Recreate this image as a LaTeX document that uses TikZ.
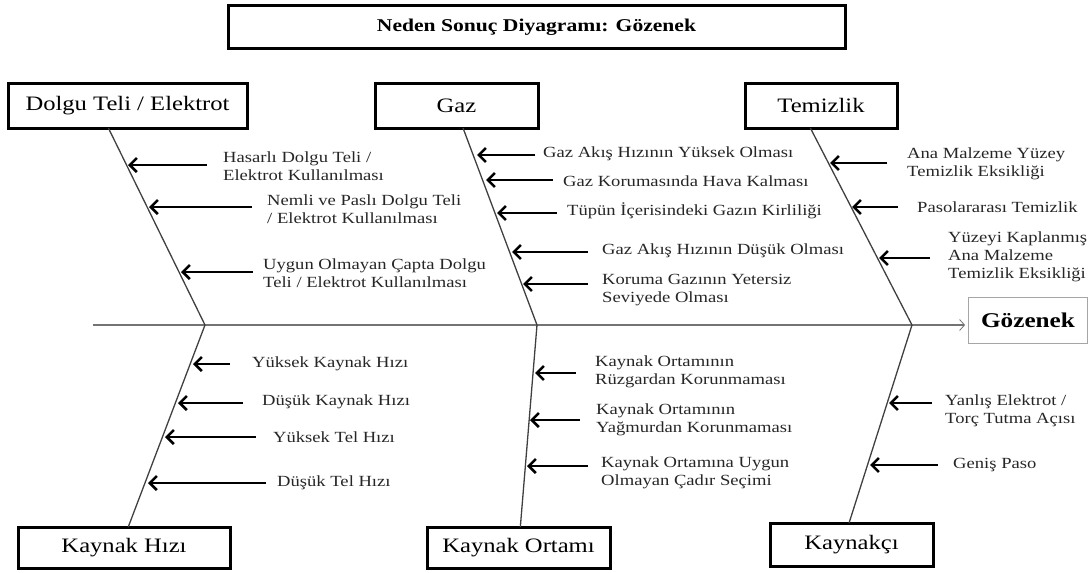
\documentclass[tikz,border=0pt]{standalone}
\usepackage{fontspec}
\setmainfont{Liberation Serif}[FakeStretch=1.2]
\usetikzlibrary{calc,arrows.meta}

\begin{document}
\begin{tikzpicture}[x=1pt,y=-1pt,every text node part/.style={align=left}]
		\tikzstyle{catbox}=[draw,line width=3pt,outer sep=0pt,inner sep=0pt,
							font=\fontsize{20.5}{24}\selectfont]
		\tikzstyle{bone}=[line width=1.3pt,draw=black!75]
		\tikzstyle{cause}=[line width=2.6pt,-{Straight Barb[length=7pt,width=14pt]}]
		\tikzstyle{causetext}=[anchor=west,inner sep=0pt,text=black!85,
							font=\fontsize{15.5}{18}\selectfont]

		\useasboundingbox (0,0) rectangle (1088,573);

		% title
		\node[catbox,minimum width=617pt,minimum height=43pt,
			font=\fontsize{18}{22}\selectfont\bfseries] (title) at (536.5,27) {Neden Sonuç Diyagramı: Gözenek};

		% categories
		\node[catbox,minimum width=239pt,minimum height=45pt] (dolgu) at (127.5,105.5) {Dolgu Teli / Elektrot};
		\node[catbox,minimum width=163pt,minimum height=45pt] (gaz) at (456.5,105.5) {Gaz};
		\node[catbox,minimum width=152pt,minimum height=45pt] (temizlik) at (821,105.5) {Temizlik};
		\node[catbox,minimum width=212pt,minimum height=41pt] (hiz) at (124,547.5) {Kaynak Hızı};
		\node[catbox,minimum width=183pt,minimum height=41pt] (ortam) at (518.5,547.5) {Kaynak Ortamı};
		\node[catbox,minimum width=163pt,minimum height=43pt] (kaynakci) at (851.5,544.5) {Kaynakçı};

		% effect
		\node[draw=black!35,line width=0.8pt,minimum width=119pt,minimum height=46pt,
			font=\fontsize{21}{24}\selectfont\bfseries] (effect) at (1028,320) {Gözenek};

		% spine
		\coordinate (sp) at (93,325);
		\foreach \name/\x in {j1/205, j2/537, j3/912}
			\coordinate (\name) at (\x,325);
		\draw[draw=black!55,line width=1.5pt,shorten >=3pt,
			-{Straight Barb[length=5pt,width=11pt,line width=0.8pt]}] (sp) -- (sp -| effect.west);

		% bones
		\foreach \b/\t/\j in {dolgu/0.42/j1, gaz/0.54/j2, temizlik/0.43/j3}
			\draw[bone] ($(\b.south west)!\t!(\b.south east)$) -- (\j);
		\foreach \b/\t/\j in {hiz/0.52/j1, ortam/0.51/j2, kaynakci/0.485/j3}
			\draw[bone] ($(\b.north west)!\t!(\b.north east)$) -- (\j);

		% causes
		\foreach \n/\y/\xb/\xa/\xt/\yt/\txt in {
			d1/165/128/207/223/166/{Hasarlı Dolgu Teli /\\Elektrot Kullanılması},
			d2/207/149/252/267/209/{Nemli ve Paslı Dolgu Teli\\/ Elektrot Kullanılması},
			d3/272/181/253/263/273/{Uygun Olmayan Çapta Dolgu\\Teli / Elektrot Kullanılması},
			g1/155/477/535/543/154/{Gaz Akış Hızının Yüksek Olması},
			g2/180/486/553/563/181/{Gaz Korumasında Hava Kalması},
			g3/213/497/557/567/211/{Tüpün İçerisindeki Gazın Kirliliği},
			g4/252/512/588/602/251/{Gaz Akış Hızının Düşük Olması},
			g5/284/523/588/602/290/{Koruma Gazının Yetersiz\\Seviyede Olması},
			t1/163/830/887/907/164/{Ana Malzeme Yüzey\\Temizlik Eksikliği},
			t2/207/852/898/917/207/{Pasolararası Temizlik},
			t3/258/879/930/948/257/{Yüzeyi Kaplanmış\\Ana Malzeme\\Temizlik Eksikliği},
			k1/364/193/230/252/364/{Yüksek Kaynak Hızı},
			k2/403/178/243/262/402/{Düşük Kaynak Hızı},
			k3/437/165/256/273/437/{Yüksek Tel Hızı},
			k4/483/148/266/277/483/{Düşük Tel Hızı},
			o1/373/535/576/595/372/{Kaynak Ortamının\\Rüzgardan Korunmaması},
			o2/420/530/580/596/420/{Kaynak Ortamının\\Yağmurdan Korunmaması},
			o3/466/527/588/601/473/{Kaynak Ortamına Uygun\\Olmayan Çadır Seçimi},
			c1/403/889/932/945/411/{Yanlış Elektrot /\\Torç Tutma Açısı},
			c2/465/870/938/953/465/{Geniş Paso}} {
			\node[causetext] (\n) at (\xt,\yt) {\txt};
			\coordinate (\n-a) at (\xa,\y);
			\coordinate (\n-b) at (\xb,\y);
			\draw[cause] (\n-a) -- (\n-b);
		}

	\end{tikzpicture}
\end{document}
